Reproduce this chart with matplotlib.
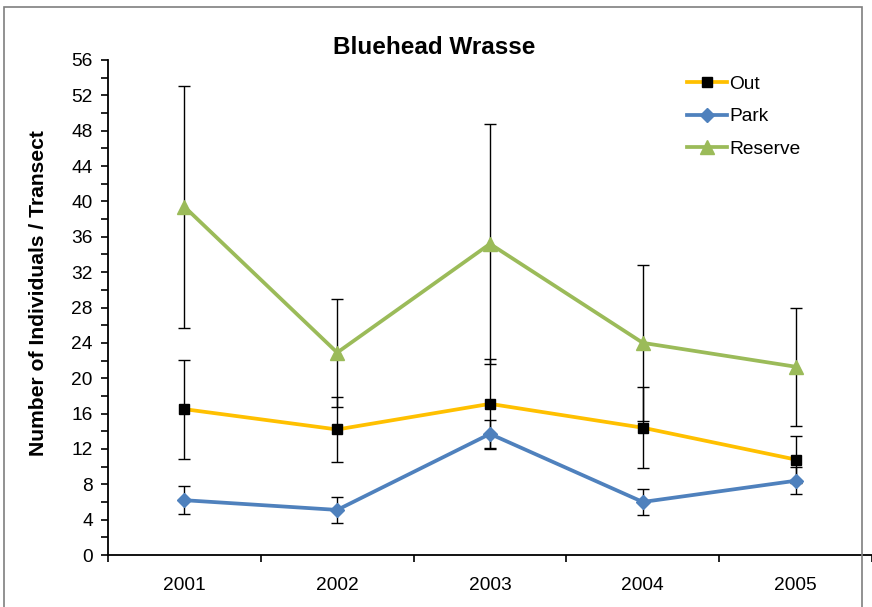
import numpy as np
import matplotlib
matplotlib.use("Agg")
import matplotlib.pyplot as plt
from matplotlib.patches import Rectangle

plt.rcParams['font.family'] = ['Liberation Sans', 'DejaVu Sans']

years = ['2001', '2002', '2003', '2004', '2005']
out_mean = [16.5, 14.2, 17.1, 14.4, 10.8]
out_err = [5.6, 3.7, 5.1, 4.6, 2.7]
park_mean = [6.2, 5.1, 13.7, 6.0, 8.4]
park_err = [1.6, 1.5, 1.6, 1.5, 1.5]
reserve_mean = [39.4, 22.9, 35.2, 24.0, 21.3]
reserve_err = [13.7, 6.1, 13.6, 8.8, 6.7]

fig = plt.figure(figsize=(8.72, 6.07), dpi=100)
ax = fig.add_axes([108/872, 52/607, 764/872, 495/607])

x = np.arange(1, len(years) + 1)

series = [
    ('Out', out_mean, out_err, '#FFC000', 's', 7, 'black'),
    ('Park', park_mean, park_err, '#4F81BD', 'D', 7, '#4F81BD'),
    ('Reserve', reserve_mean, reserve_err, '#9BBB59', '^', 10, '#9BBB59'),
]
for name, m, e, c, mk, ms, mc in series:
    ax.errorbar(x, m, yerr=e, fmt='none', ecolor='black', elinewidth=1,
                capsize=4, capthick=1, zorder=2)
for name, m, e, c, mk, ms, mc in series:
    ax.plot(x, m, color=c, lw=2.7, marker=mk, ms=ms, mfc=mc, mec=mc,
            label=name, zorder=3)

ax.set_xlim(0.5, 5.5)
ax.set_ylim(0, 56)
ax.set_yticks(np.arange(0, 57, 4))
ax.set_yticks(np.arange(0, 57, 2), minor=True)
ax.set_xticks(x)
ax.set_xticklabels(years)
ax.set_xticks(np.arange(0.5, 5.6, 1), minor=True)
ax.tick_params(axis='y', which='both', direction='out', length=5, width=1.2,
               labelsize=13.8, pad=6)
ax.tick_params(axis='x', which='major', length=0, labelsize=13.8, pad=16)
ax.tick_params(axis='x', which='minor', direction='out', length=5, width=1.2)
for s in ['top', 'right']:
    ax.spines[s].set_visible(False)
for s in ['left', 'bottom']:
    ax.spines[s].set_linewidth(1.3)

ax.set_ylabel('Number of Individuals / Transect', fontsize=15.2, fontweight='bold')
ax.yaxis.set_label_coords(-0.078, 0.53)
fig.text(434/872, 1 - 48/607, 'Bluehead Wrasse', ha='center', va='center',
         fontsize=17.5, fontweight='bold')

ax.legend(loc='upper left', bbox_to_anchor=(0.748, 0.985), frameon=False,
          fontsize=13.8, handlelength=2.1, handletextpad=0.1,
          labelspacing=0.8, borderaxespad=0)

fig.patches.append(Rectangle((4/872, -0.1), 858/872, 1.1 - 7/607,
                             transform=fig.transFigure, fill=False,
                             edgecolor='#7f7f7f', lw=1.2))

fig.savefig('out.png', dpi=100)
